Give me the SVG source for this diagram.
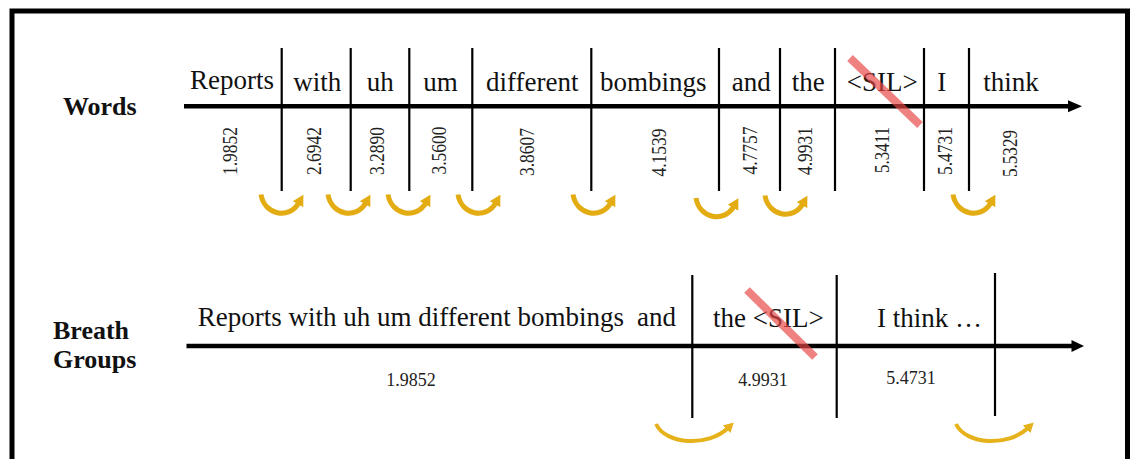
<svg xmlns="http://www.w3.org/2000/svg" width="1130" height="459" viewBox="0 0 1130 459">
<style>
.w{font-family:"Liberation Serif","Times New Roman",serif;font-size:27px;fill:#111}
.lab{font-family:"Liberation Serif","Times New Roman",serif;font-size:26px;font-weight:bold;fill:#111}
.n{font-family:"Liberation Serif","Times New Roman",serif;font-size:20px;fill:#222}
.nb{font-family:"Liberation Serif","Times New Roman",serif;font-size:18px;fill:#222}
.sep{stroke:#000;stroke-width:2.2}
.ax{stroke:#000;stroke-width:4.5}
.strike{stroke:#E84545;stroke-opacity:0.68;stroke-width:8}
.ya{fill:none;stroke:#E2AC12;stroke-width:5;marker-end:url(#yh)}
.yb{fill:none;stroke:#E6B21C;stroke-width:4;marker-end:url(#yh2)}
</style>
<defs>
<marker id="yh" markerUnits="userSpaceOnUse" markerWidth="14" markerHeight="14" refX="2" refY="7" orient="auto" viewBox="0 0 14 14">
<path d="M0 1 L11 7 L0 13 Z" fill="#E2AC12"/>
</marker>
<marker id="yh2" markerUnits="userSpaceOnUse" markerWidth="14" markerHeight="14" refX="2" refY="7" orient="auto" viewBox="0 0 14 14">
<path d="M0 1.5 L10 7 L0 12.5 Z" fill="#E6B21C"/>
</marker>
<path id="wa" class="ya" d="M0 0 C3 20 28 26 38 8"/>
<path id="ba" class="yb" d="M0 0 C10 21 52 23 72 4"/>
</defs>
<rect x="12" y="11" width="1115.5" height="470" fill="#fff" stroke="#000" stroke-width="5"/>

<g id="labels">
<text class="lab" x="63" y="115">Words</text>
<text class="lab" x="53" y="339">Breath</text>
<text class="lab" x="53" y="368">Groups</text>
</g>

<g id="connectors">
<line class="ax" x1="184" y1="106.3" x2="1070" y2="106.3"/>
<polygon points="1082,106.3 1068,100.3 1068,112.3" fill="#000"/>
<line class="ax" x1="186.5" y1="346" x2="1073" y2="346"/>
<polygon points="1084,346 1071.5,340 1071.5,352" fill="#000"/>
<line class="sep" x1="281.7" y1="48" x2="281.7" y2="191"/>
<line class="sep" x1="350.7" y1="48" x2="350.7" y2="191"/>
<line class="sep" x1="409.3" y1="48" x2="409.3" y2="191"/>
<line class="sep" x1="472.3" y1="48" x2="472.3" y2="191"/>
<line class="sep" x1="591.3" y1="48" x2="591.3" y2="191"/>
<line class="sep" x1="719" y1="48" x2="719" y2="191"/>
<line class="sep" x1="780" y1="48" x2="780" y2="191"/>
<line class="sep" x1="835" y1="48" x2="835" y2="191"/>
<line class="sep" x1="924" y1="48" x2="924" y2="191"/>
<line class="sep" x1="969" y1="48" x2="969" y2="191"/>
<line class="sep" x1="692.3" y1="275" x2="692.3" y2="418"/>
<line class="sep" x1="836.7" y1="275" x2="836.7" y2="418"/>
<line class="sep" x1="995" y1="273" x2="995" y2="416"/>
<use href="#wa" x="261" y="194.5"/>
<use href="#wa" x="328" y="194.5"/>
<use href="#wa" x="388" y="194.5"/>
<use href="#wa" x="458" y="194.5"/>
<use href="#wa" x="573" y="194.5"/>
<use href="#wa" x="696" y="198"/>
<use href="#wa" x="765" y="195.5"/>
<use href="#wa" x="953" y="194.5"/>
<use href="#ba" x="656" y="424"/>
<use href="#ba" x="956" y="424"/>
</g>

<g id="words">
<text class="w" x="190" y="88.5">Reports</text>
<text class="w" x="293.3" y="91">with</text>
<text class="w" x="366.7" y="91">uh</text>
<text class="w" x="423.3" y="91">um</text>
<text class="w" x="486" y="91">different</text>
<text class="w" x="600" y="91">bombings</text>
<text class="w" x="731.7" y="91">and</text>
<text class="w" x="791.7" y="91">the</text>
<text class="w" x="846.7" y="91">&lt;SIL&gt;</text>
<text class="w" x="937.3" y="91">I</text>
<text class="w" x="983.3" y="91">think</text>
</g>

<g id="word-times">
<text class="n" transform="translate(236.5,151) rotate(-90)" text-anchor="middle" textLength="48" lengthAdjust="spacingAndGlyphs">1.9852</text>
<text class="n" transform="translate(321,151) rotate(-90)" text-anchor="middle" textLength="48" lengthAdjust="spacingAndGlyphs">2.6942</text>
<text class="n" transform="translate(383.5,151) rotate(-90)" text-anchor="middle" textLength="48" lengthAdjust="spacingAndGlyphs">3.2890</text>
<text class="n" transform="translate(445.5,150.5) rotate(-90)" text-anchor="middle" textLength="48" lengthAdjust="spacingAndGlyphs">3.5600</text>
<text class="n" transform="translate(533.5,152) rotate(-90)" text-anchor="middle" textLength="48" lengthAdjust="spacingAndGlyphs">3.8607</text>
<text class="n" transform="translate(665.5,152.5) rotate(-90)" text-anchor="middle" textLength="48" lengthAdjust="spacingAndGlyphs">4.1539</text>
<text class="n" transform="translate(756.5,150.5) rotate(-90)" text-anchor="middle" textLength="48" lengthAdjust="spacingAndGlyphs">4.7757</text>
<text class="n" transform="translate(811.5,151) rotate(-90)" text-anchor="middle" textLength="48" lengthAdjust="spacingAndGlyphs">4.9931</text>
<text class="n" transform="translate(888.5,150) rotate(-90)" text-anchor="middle" textLength="46" lengthAdjust="spacingAndGlyphs">5.3411</text>
<text class="n" transform="translate(951.5,151) rotate(-90)" text-anchor="middle" textLength="48" lengthAdjust="spacingAndGlyphs">5.4731</text>
<text class="n" transform="translate(1016.5,153.5) rotate(-90)" text-anchor="middle" textLength="47" lengthAdjust="spacingAndGlyphs">5.5329</text>
</g>

<g id="breath-groups">
<text class="w" x="197.7" y="326">Reports with uh um different bombings</text>
<text class="w" x="637" y="326">and</text>
<text class="w" x="713" y="327">the &lt;SIL&gt;</text>
<text class="w" x="877" y="327">I think …</text>
<text class="nb" x="411" y="386" text-anchor="middle">1.9852</text>
<text class="nb" x="763" y="386" text-anchor="middle">4.9931</text>
<text class="nb" x="911" y="384" text-anchor="middle">5.4731</text>
</g>

<g id="strikes">
<line class="strike" x1="850" y1="58" x2="920" y2="125"/>
<line class="strike" x1="747" y1="290" x2="815" y2="357"/>
</g>
</svg>
